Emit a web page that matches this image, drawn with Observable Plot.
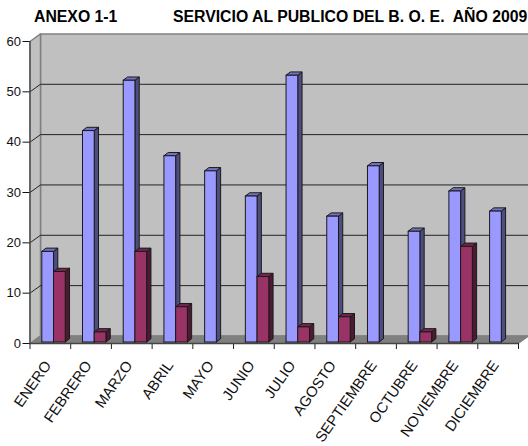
<!DOCTYPE html>
<html><head><meta charset="utf-8">
<script src="https://cdn.jsdelivr.net/npm/d3@7"></script>
<script src="https://cdn.jsdelivr.net/npm/@observablehq/plot@0.6"></script>
<style>
html,body{margin:0;padding:0;background:#fff}
#h{position:relative;height:30px;font:bold 15.8px "Liberation Sans",Arial,sans-serif;color:#000;white-space:pre}
#h span{position:absolute;top:8px;line-height:18px}
svg{display:block}
</style></head><body>
<div id="h"><span style="left:34px">ANEXO 1-1</span><span style="left:173px">SERVICIO AL PUBLICO DEL B. O. E.  AÑO 2009</span></div>
<script>
const months = ["ENERO","FEBRERO","MARZO","ABRIL","MAYO","JUNIO","JULIO","AGOSTO","SEPTIEMBRE","OCTUBRE","NOVIEMBRE","DICIEMBRE"];
const serieA = [18,42,52,37,34,29,53,25,35,22,30,26];
const serieB = [14,2,18,7,0,13,3,5,0,2,19,0];
const yTicks = [0,10,20,30,40,50,60];

// depth of the pseudo-3D box, in data units
const wx = 0.258, wy = 1.5;     // wall depth
const bx = 0.105, by = 0.65;    // bar depth
const bw = 0.288, b0 = 0.29, base = 0.3;

const poly = (id, pts) => [...pts, pts[0]].map(([x, y]) => ({id, x, y}));
const faces = (vals, off) => {
  const front = [], side = [], top = [];
  vals.forEach((v, i) => {
    if (!v) return;
    const l = i + off, r = l + bw, t = v + base;
    front.push(...poly(i, [[l, base], [r, base], [r, t], [l, t]]));
    side.push(...poly(i, [[r, base], [r + bx, base + by], [r + bx, t + by], [r, t]]));
    top.push(...poly(i, [[l, t], [r, t], [r + bx, t + by], [l + bx, t + by]]));
  });
  return {front, side, top};
};
const A = faces(serieA, b0), B = faces(serieB, b0 + bw);
const face = (d, fill) => Plot.line(d, {x: "x", y: "y", z: "id", fill, stroke: "#1a1a1a", strokeWidth: 1, curve: "linear"});

const backWall = poly("b", [[wx, wy], [12 + wx, wy], [12 + wx, 60 + wy], [wx, 60 + wy]]);
const sideWall = poly("s", [[0, 0], [wx, wy], [wx, 60 + wy], [0, 60]]);
const floor = poly("f", [[0, 0], [12, 0], [12 + wx, wy], [wx, wy]]);
const grid = yTicks.slice(1, -1).flatMap(v => [{id: v, x: 0, y: v}, {id: v, x: wx, y: v + wy}, {id: v, x: 12 + wx, y: v + wy}]);

const plot = Plot.plot({
  width: 528, height: 416,
  marginTop: 11, marginBottom: 103, marginLeft: 29.5, marginRight: 10,
  style: {background: "#fff", fontFamily: "'Liberation Sans',Arial,sans-serif", fontSize: "13px", overflow: "visible"},
  x: {domain: [0, 12], range: [29.5, 518], axis: null},
  y: {domain: [0, 60], range: [313, 11], axis: null},
  marks: [
    Plot.line(backWall, {x: "x", y: "y", z: "id", fill: "#c0c0c0", stroke: "#808080", strokeWidth: 1.5}),
    Plot.line(sideWall, {x: "x", y: "y", z: "id", fill: "#c0c0c0", stroke: "#808080", strokeWidth: 1.5}),
    Plot.line(floor, {x: "x", y: "y", z: "id", fill: "#808080", stroke: "#808080", strokeWidth: 1}),
    Plot.line(grid, {x: "x", y: "y", z: "id", stroke: "#222", strokeWidth: 1}),
    face(A.side, "#4d4d80"), face(A.top, "#7373bf"), face(A.front, "#9999ff"),
    face(B.side, "#4d1a33"), face(B.top, "#73264d"), face(B.front, "#993366"),
    Plot.ruleX(d3.range(0, 13), {y1: 0, y2: -1.2, stroke: "#222", strokeWidth: 1, clip: false}),
    Plot.ruleY([0], {x1: 0, x2: 12, stroke: "#444", strokeWidth: 1.5}),
    Plot.ruleX([0], {y1: 0, y2: 60, stroke: "#555", strokeWidth: 1.5}),
    Plot.axisY({ticks: yTicks, tickSize: 7, tickPadding: 2, fontSize: 13, color: "#111", label: null}),
    Plot.axisX({ticks: d3.range(0, 12).map(i => i + 0.5), tickSize: 0, tickPadding: 19, dx: -2.5,
      tickFormat: d => months[Math.floor(d)], tickRotate: -55, textAnchor: "end", lineAnchor: "middle",
      fontSize: 14.8, color: "#111", label: null})
  ]
});
document.body.appendChild(plot);
</script></body></html>
